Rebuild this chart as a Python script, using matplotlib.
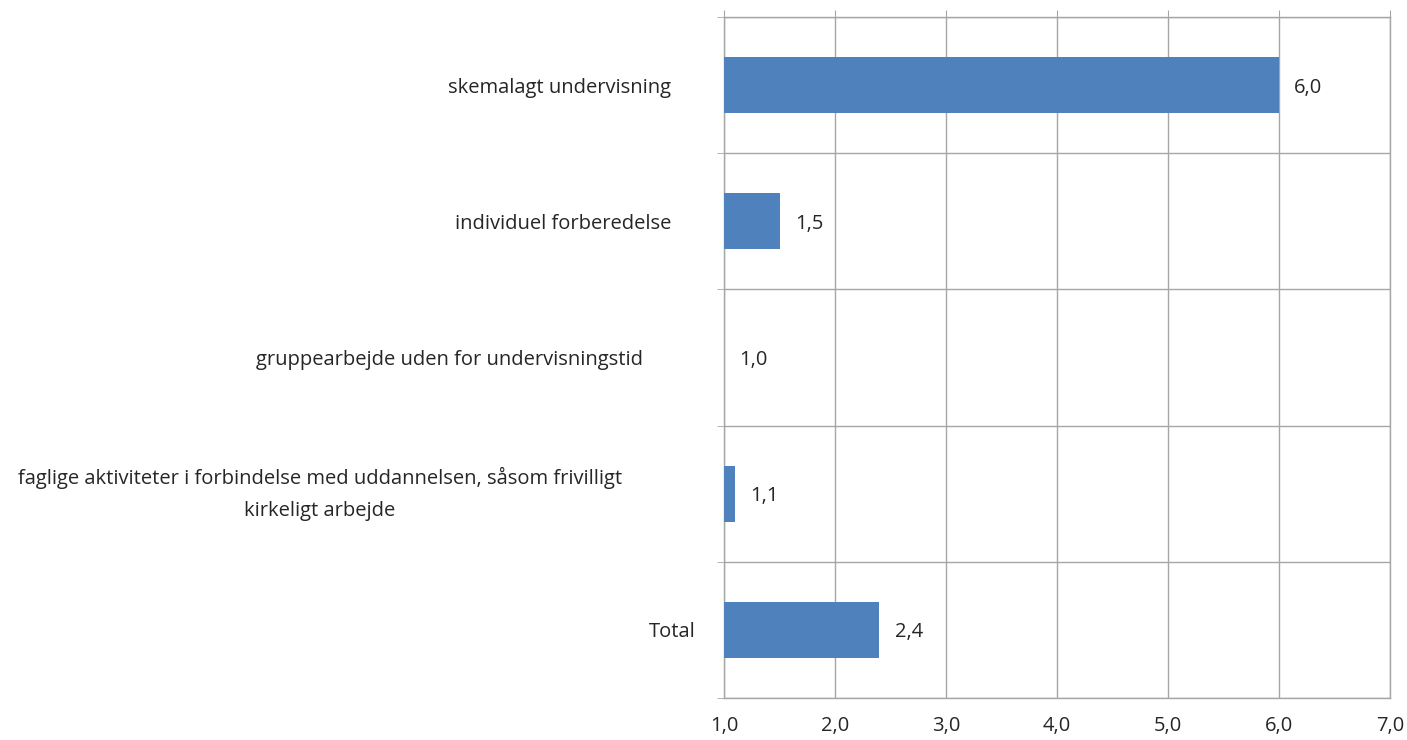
import matplotlib
matplotlib.use("Agg")
import matplotlib.pyplot as plt
from matplotlib.ticker import FuncFormatter, FixedLocator
import matplotlib.transforms as mtransforms

# data
categories = [
    "skemalagt undervisning",
    "individuel forberedelse",
    "gruppearbejde uden for undervisningstid",
    "faglige aktiviteter i forbindelse med uddannelsen, såsom frivilligt\nkirkeligt arbejde",
    "Total",
]
values = [6.0, 1.5, 1.0, 1.1, 2.4]
x_ticks = [1, 2, 3, 4, 5, 6, 7]

# label centres in figure pixels (Excel wraps them oddly)
label_x_px = [559, 563, 450, 320, 672]

plt.rcParams['font.family'] = ['Open Sans', 'DejaVu Sans']
txt_color = '#262626'
grid_color = '#a6a6a6'
bar_color = '#4f81bd'
fs = 14.5

W, H = 1407, 740
fig = plt.figure(figsize=(W / 100, H / 100), dpi=100)
ax = fig.add_axes([724 / W, 1 - 698 / H, (1390 - 724) / W, (698 - 17) / H])

y = list(range(len(categories)))
base = 1.0
ax.barh(y, [v - base for v in values], left=base, height=0.41, color=bar_color, zorder=3)

for yi, v in zip(y, values):
    ax.annotate(f"{v:.1f}".replace('.', ','), xy=(v, yi), xytext=(11, 0),
                textcoords='offset points', va='center_baseline', ha='left',
                fontsize=fs, color=txt_color)

ax.set_xlim(1, 7)
ax.set_ylim(len(categories) - 0.5, -0.5)
ax.xaxis.set_major_locator(FixedLocator(x_ticks))
ax.xaxis.set_major_formatter(FuncFormatter(lambda x, p: f"{x:.1f}".replace('.', ',')))
ax.tick_params(axis='x', top=True, bottom=False, labeltop=False, labelbottom=True,
               direction='out', length=5, color=grid_color, labelsize=fs,
               labelcolor=txt_color, pad=8)
ax.grid(axis='x', color=grid_color, linewidth=1, zorder=0)

# category boundaries
ax.yaxis.set_major_locator(FixedLocator(y))
ax.yaxis.set_minor_locator(FixedLocator([i - 0.5 for i in range(len(categories) + 1)]))
ax.tick_params(axis='y', which='major', left=False, labelleft=False)
ax.tick_params(axis='y', which='minor', left=True, direction='out', length=5, color=grid_color)
ax.grid(axis='y', which='minor', color=grid_color, linewidth=1, zorder=0)

for s in ax.spines.values():
    s.set_color(grid_color)
    s.set_linewidth(1)

trans = mtransforms.blended_transform_factory(fig.transFigure, ax.transData)
for yi, lab, xp in zip(y, categories, label_x_px):
    va = 'center' if '\n' in lab else 'center_baseline'
    ax.text(xp / W, yi, lab, transform=trans, ha='center', va=va,
            multialignment='center', fontsize=fs, color=txt_color, linespacing=1.8)

fig.savefig("out.png", dpi=100)
